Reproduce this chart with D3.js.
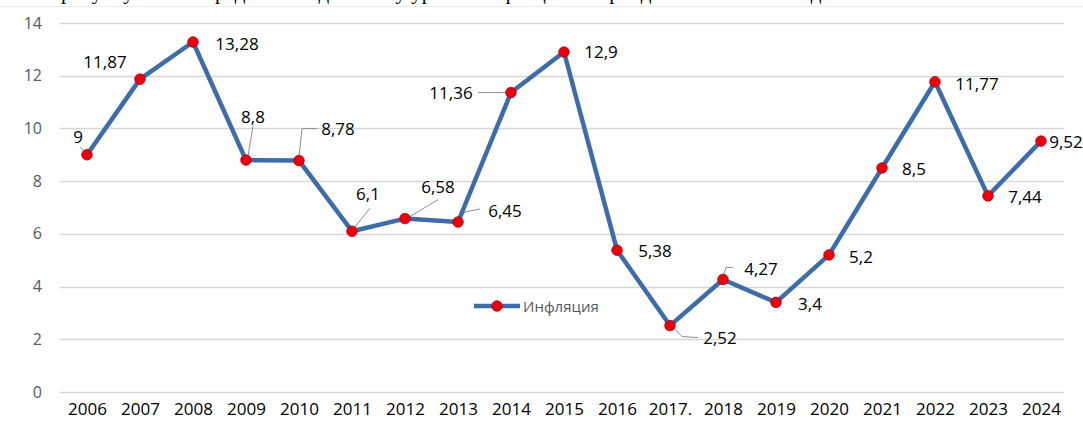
<!DOCTYPE html>
<html>
<head>
<meta charset="utf-8">
<script src="https://cdn.jsdelivr.net/npm/d3@7"></script>
<style>
  html, body { margin: 0; padding: 0; background: #fff; }
  svg { display: block; font-family: "Open Sans", sans-serif; }
</style>
</head>
<body>
<svg id="chart" width="1083" height="427"></svg>
<script>
'use strict';

// data
var years = ['2006', '2007', '2008', '2009', '2010', '2011', '2012', '2013', '2014', '2015',
             '2016', '2017.', '2018', '2019', '2020', '2021', '2022', '2023', '2024'];
var inflation = [9, 11.87, 13.28, 8.8, 8.78, 6.1, 6.58, 6.45, 11.36, 12.9,
                 5.38, 2.52, 4.27, 3.4, 5.2, 8.5, 11.77, 7.44, 9.52];
var yTicks = [0, 2, 4, 6, 8, 10, 12, 14];
var seriesName = 'Инфляция';

// label placement (centre of text relative to the point)
var labelOffsets = [[-9, -18], [-35, -18], [44, 2], [7, -44], [39, -32], [16, -38], [33, -32],
                    [47, -11], [-60, 0], [37, 0], [38, 0], [50, 12], [38, -11], [34, 1],
                    [32, 2], [32, 1], [42, 2], [37, 1], [25, 0]];
// leader lines (relative to the point), null = none
var leaders = [
    [[-7, -8], [-1, -2]], null, null,
    [[7, -34], [2, -4]],
    [[0, -4], [3, -32], [18, -32]],
    [[18, -23], [2, -3]],
    [[33, -19], [5, -2]],
    [[22, -13], [7, -10], [2, -3]],
    [[-33, 0], [-4, 0]],
    null, null,
    [[3, 2], [12, 11], [28, 12]],
    [[0, -3], [3, -12], [10, -12]],
    null, null, null, null, null, null
];

var svg = d3.select('#chart');

// cut-off text line from the page above
svg.append('text')
    .attr('x', 30).attr('y', -1)
    .style('font-family', '"Liberation Serif", serif')
    .style('font-size', '21px')
    .attr('fill', '#000')
    .text('По рисунку можно представить динамику уровня инфляции в период с 2006 по 2024 год');
svg.append('line')
    .attr('x1', 0).attr('x2', 1083).attr('y1', 6.5).attr('y2', 6.5)
    .attr('stroke', '#ececec').attr('stroke-width', 1);

var x = d3.scalePoint().domain(years).range([87, 1041]);
var y = d3.scaleLinear().domain([0, 14]).range([392, 23]);

// gridlines
svg.append('g').selectAll('line')
    .data(yTicks)
    .enter().append('line')
    .attr('x1', 60).attr('x2', 1064)
    .attr('y1', function (d) { return Math.round(y(d)) + 0.5; })
    .attr('y2', function (d) { return Math.round(y(d)) + 0.5; })
    .attr('stroke', '#d6d6d6')
    .attr('stroke-width', 1.5);

// y labels
var yAxis = d3.axisLeft(y).tickValues(yTicks).tickSize(0).tickPadding(0);
var gy = svg.append('g').attr('transform', 'translate(42,0)').call(yAxis);
gy.select('.domain').remove();
gy.selectAll('text')
    .attr('fill', '#595959')
    .style('font-size', '16px')
    .style('font-family', '"Open Sans", sans-serif');

// x labels
var xAxis = d3.axisBottom(x).tickSize(0).tickPadding(0);
var gx = svg.append('g').attr('transform', 'translate(0,403)').call(xAxis);
gx.select('.domain').remove();
gx.selectAll('text')
    .attr('fill', '#000')
    .style('font-size', '17px')
    .style('font-weight', '500')
    .style('font-family', '"Open Sans", sans-serif');

var pts = inflation.map(function (v, i) { return [x(years[i]), y(v)]; });

// leader lines
leaders.forEach(function (l, i) {
    if (!l) return;
    svg.append('polyline')
        .attr('points', l.map(function (p) { return (pts[i][0] + p[0]) + ',' + (pts[i][1] + p[1]); }).join(' '))
        .attr('fill', 'none')
        .attr('stroke', '#8c8c8c')
        .attr('stroke-width', 1);
});

// line
var line = d3.line()
    .x(function (d, i) { return x(years[i]); })
    .y(function (d) { return y(d); });

svg.append('path')
    .datum(inflation)
    .attr('d', line)
    .attr('fill', 'none')
    .attr('stroke', '#3d6ca8')
    .attr('stroke-width', 4.5)
    .attr('stroke-linejoin', 'round');

// markers
svg.append('g').selectAll('circle')
    .data(inflation)
    .enter().append('circle')
    .attr('cx', function (d, i) { return x(years[i]); })
    .attr('cy', function (d) { return y(d); })
    .attr('r', 5.3)
    .attr('fill', '#e8000d')
    .attr('stroke', '#b3001a')
    .attr('stroke-width', 0.8);

// data labels
svg.append('g').selectAll('text')
    .data(inflation)
    .enter().append('text')
    .attr('x', function (d, i) { return x(years[i]) + labelOffsets[i][0]; })
    .attr('y', function (d, i) { return y(d) + labelOffsets[i][1]; })
    .attr('text-anchor', 'middle')
    .attr('dominant-baseline', 'central')
    .attr('fill', '#000')
    .style('font-size', '17px')
    .text(function (d) { return String(d).replace('.', ','); });

// legend
var lg = svg.append('g').attr('transform', 'translate(474,306)');
lg.append('line')
    .attr('x1', 0).attr('x2', 46).attr('y1', 0).attr('y2', 0)
    .attr('stroke', '#3d6ca8').attr('stroke-width', 4.5);
lg.append('circle')
    .attr('cx', 23).attr('cy', 0).attr('r', 5.3)
    .attr('fill', '#e8000d').attr('stroke', '#b3001a').attr('stroke-width', 0.8);
lg.append('text')
    .attr('x', 49).attr('y', 0)
    .attr('dominant-baseline', 'central')
    .attr('fill', '#595959')
    .style('font-size', '15px')
    .text(seriesName);
</script>
</body>
</html>
